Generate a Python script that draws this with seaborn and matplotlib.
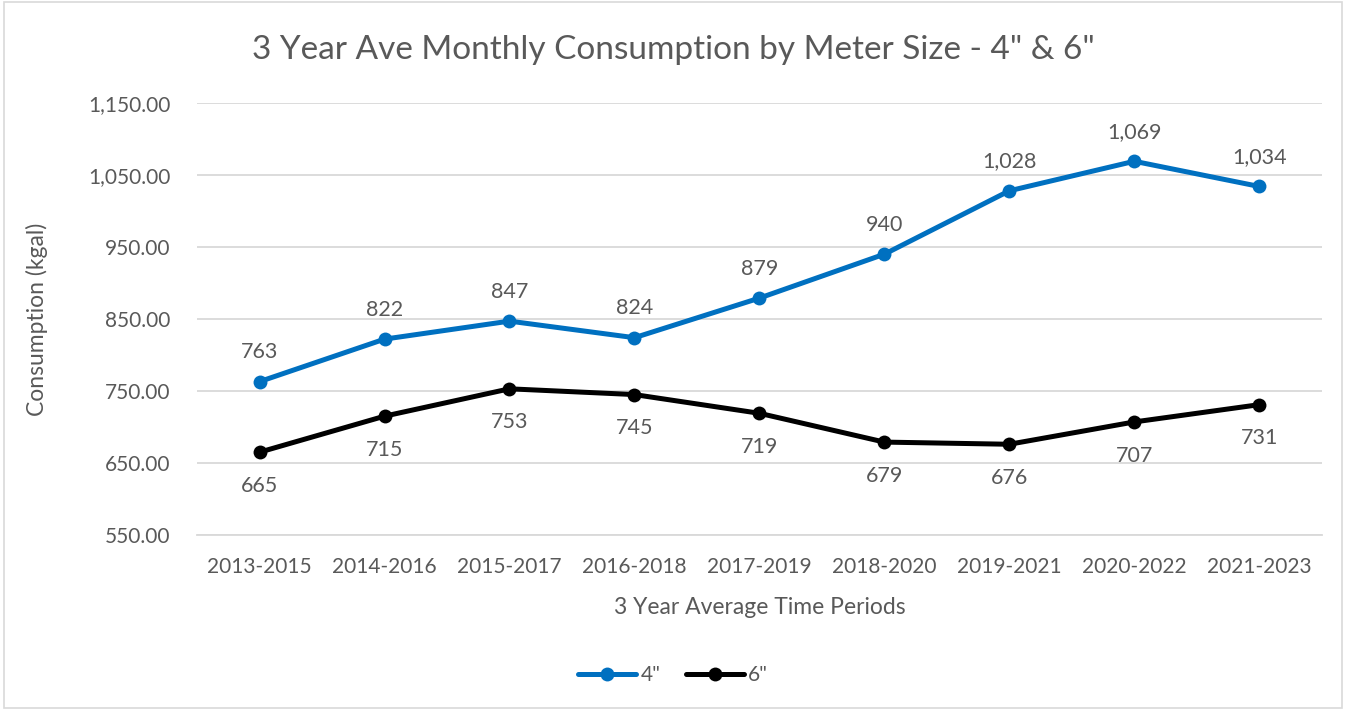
import pandas as pd
import numpy as np
import matplotlib.pyplot as plt
import seaborn as sns
from matplotlib.ticker import FuncFormatter
from matplotlib.patches import Rectangle

periods = ["2013-2015", "2014-2016", "2015-2017", "2016-2018", "2017-2019",
           "2018-2020", "2019-2021", "2020-2022", "2021-2023"]
size_4in = [763, 822, 847, 824, 879, 940, 1028, 1069, 1034]
size_6in = [665, 715, 753, 745, 719, 679, 676, 707, 731]
y_ticks = [550, 650, 750, 850, 950, 1050, 1150]

df = pd.DataFrame({
    "period": periods * 2,
    "value": size_4in + size_6in,
    "size": ['4"'] * len(periods) + ['6"'] * len(periods),
})

sns.set_theme(style="white")
plt.rcParams["font.family"] = ["Lato", "DejaVu Sans"]
grey = "#595959"

fig = plt.figure(figsize=(13.46, 7.1), dpi=100)
ax = fig.add_axes([0.1464, 0.2465, 0.8356, 0.6085])

colors = {'4"': "#0070C0", '6"': "#000000"}
sns.lineplot(data=df, x="period", y="value", hue="size", palette=colors,
             marker="o", markersize=10, linewidth=3.6, markeredgewidth=0,
             ax=ax, sort=False)

# data labels: 4" above, 6" below
for i, v in enumerate(size_4in):
    ax.annotate(f"{v:,}", (i, v), xytext=(0, 14), textcoords="offset points",
                ha="center", va="bottom", fontsize=15.5, color=grey)
for i, v in enumerate(size_6in):
    ax.annotate(f"{v:,}", (i, v), xytext=(0, -17), textcoords="offset points",
                ha="center", va="top", fontsize=15.5, color=grey)

ax.set_xlim(-0.5, len(periods) - 0.5)
ax.set_ylim(y_ticks[0], y_ticks[-1])
ax.set_yticks(y_ticks)
ax.yaxis.set_major_formatter(FuncFormatter(lambda y, p: f"{y:,.2f}"))
ax.grid(axis="y", color="#d9d9d9", linewidth=1.3)
ax.set_axisbelow(True)
for s in ["top", "right", "left"]:
    ax.spines[s].set_visible(False)
ax.spines["bottom"].set_color("#d9d9d9")
ax.spines["bottom"].set_linewidth(1.3)
ax.tick_params(axis="both", length=0, labelsize=15, labelcolor=grey)
ax.tick_params(axis="x", pad=16)
ax.tick_params(axis="y", pad=19)

ax.set_xlabel("3 Year Average Time Periods", fontsize=16.5, color=grey, labelpad=14)
ax.set_ylabel("Consumption (kgal)", fontsize=16.5, color=grey, labelpad=29)
fig.text(0.5, 0.93, '3 Year Ave Monthly Consumption by Meter Size - 4" & 6"',
         ha="center", va="center", fontsize=24, color=grey)

leg = ax.legend(loc="center", bbox_to_anchor=(0.5, 0.049), bbox_transform=fig.transFigure,
                ncol=2, frameon=False, fontsize=15, handlelength=2.8,
                columnspacing=1.2, handletextpad=0.2)
for t in leg.get_texts():
    t.set_color(grey)

fig.patches.append(Rectangle((0.003, 0.003), 0.994, 0.994, transform=fig.transFigure,
                             fill=False, edgecolor="#d9d9d9", linewidth=1.2))

fig.savefig("out.png", dpi=100)
